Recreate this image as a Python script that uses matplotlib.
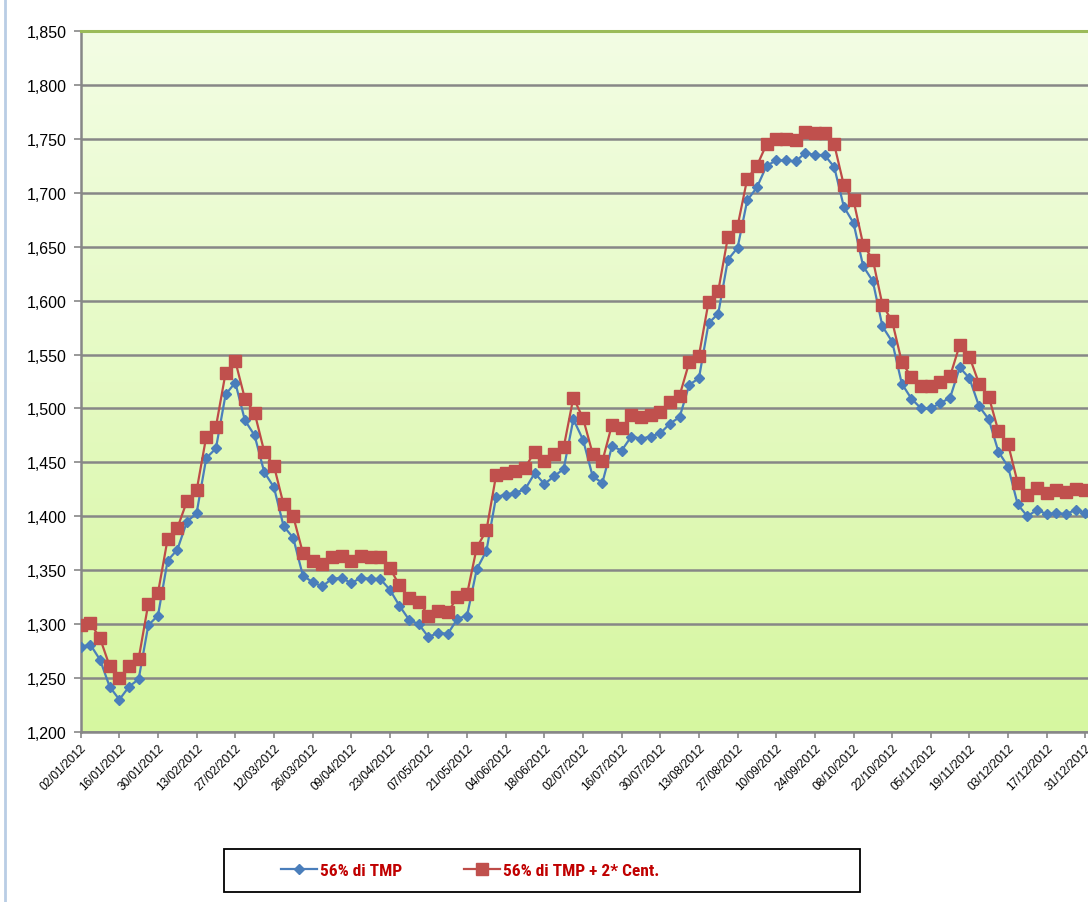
import numpy as np
import matplotlib
matplotlib.use('Agg')
import matplotlib.pyplot as plt
from matplotlib.colors import LinearSegmentedColormap
from matplotlib.lines import Line2D
from matplotlib.patches import Rectangle

# twice-weekly values, 02/01/2012 -> 31/12/2012
tmp56 = [1279, 1281, 1267, 1242, 1230, 1242, 1249, 1299, 1308, 1359,
         1369, 1395, 1403, 1454, 1463, 1513, 1524, 1489, 1475, 1441,
         1427, 1391, 1380, 1345, 1339, 1335, 1342, 1343, 1338, 1343,
         1342, 1342, 1332, 1317, 1304, 1300, 1288, 1292, 1291, 1305,
         1308, 1351, 1368, 1418, 1420, 1422, 1425, 1440, 1430, 1437,
         1444, 1490, 1471, 1437, 1431, 1465, 1461, 1474, 1472, 1474,
         1477, 1486, 1492, 1522, 1528, 1579, 1588, 1638, 1649, 1693,
         1705, 1725, 1730, 1730, 1729, 1737, 1735, 1735, 1724, 1687,
         1672, 1632, 1618, 1576, 1562, 1523, 1509, 1500, 1500, 1505,
         1510, 1538, 1528, 1502, 1490, 1460, 1446, 1411, 1400, 1406,
         1402, 1403, 1402, 1406, 1403]
tmp56_cent = [1299, 1301, 1287, 1261, 1250, 1261, 1268, 1319, 1329, 1379,
              1389, 1414, 1424, 1474, 1483, 1533, 1544, 1509, 1496, 1460,
              1447, 1411, 1400, 1366, 1359, 1356, 1362, 1363, 1359, 1363,
              1362, 1362, 1352, 1336, 1324, 1321, 1308, 1312, 1311, 1325,
              1328, 1371, 1387, 1438, 1440, 1442, 1445, 1460, 1451, 1458,
              1464, 1510, 1491, 1458, 1451, 1485, 1482, 1494, 1492, 1494,
              1497, 1506, 1512, 1543, 1549, 1599, 1609, 1659, 1669, 1713,
              1725, 1745, 1750, 1750, 1749, 1756, 1755, 1755, 1745, 1707,
              1693, 1652, 1638, 1596, 1581, 1543, 1529, 1521, 1521, 1525,
              1530, 1559, 1548, 1523, 1511, 1479, 1467, 1431, 1420, 1426,
              1422, 1424, 1423, 1425, 1424]
date_labels = ['02/01/2012', '16/01/2012', '30/01/2012', '13/02/2012', '27/02/2012',
               '12/03/2012', '26/03/2012', '09/04/2012', '23/04/2012', '07/05/2012',
               '21/05/2012', '04/06/2012', '18/06/2012', '02/07/2012', '16/07/2012',
               '30/07/2012', '13/08/2012', '27/08/2012', '10/09/2012', '24/09/2012',
               '08/10/2012', '22/10/2012', '05/11/2012', '19/11/2012', '03/12/2012',
               '17/12/2012', '31/12/2012']

plt.rcParams['font.family'] = ['Liberation Sans', 'DejaVu Sans']

W, H = 1088, 903
fig = plt.figure(figsize=(W / 100, H / 100), dpi=100)
left, right, top, bottom = 80.7, 1088, 32, 733
ax = fig.add_axes([left / W, 1 - bottom / H, (right - left) / W, (bottom - top) / H])

x = np.arange(len(tmp56))

# gradient background of the plot area
cmap = LinearSegmentedColormap.from_list('bg', ['#d6f7a0', '#f3fde4'])
grad = np.linspace(0, 1, 256).reshape(-1, 1)
ax.imshow(grad, extent=[0, 1, 0, 1], transform=ax.transAxes, aspect='auto',
          cmap=cmap, origin='lower', zorder=0)

ax.plot(x, tmp56, color='#4a7ebb', lw=1.6, marker='D', ms=5.6,
        mfc='#4a7ebb', mec='#4a7ebb', label='56% di TMP', zorder=3)
ax.plot(x, tmp56_cent, color='#be4b48', lw=1.6, marker='s', ms=8,
        mfc='#c0504d', mec='#c0504d', label='56% di TMP + 2* Cent.', zorder=3)

ax.set_ylim(1200, 1850)
ax.set_xlim(0, (right - left) / 9.66)
ax.set_yticks(np.arange(1200, 1851, 50))
ax.set_yticklabels(['{:,}'.format(v) for v in range(1200, 1851, 50)], fontsize=11.5)
ax.set_xticks(np.arange(0, len(tmp56), 4))
ax.set_xticklabels(date_labels, rotation=45, ha='right', rotation_mode='anchor', fontsize=8.6)
ax.yaxis.grid(True, color='#878787', lw=1.8, zorder=1)
ax.set_axisbelow(True)
ax.tick_params(axis='y', length=5, color='#878787', width=1.2, pad=5)
ax.tick_params(axis='x', length=4, color='#878787', width=1.2, pad=3)

ax.spines['right'].set_visible(False)
ax.spines['top'].set_color('#9bbb59')
ax.spines['top'].set_linewidth(2.2)
for s in ['left', 'bottom']:
    ax.spines[s].set_color('#878787')
    ax.spines[s].set_linewidth(1.8)

# chart frame edge on the left
fig.add_artist(Line2D([5 / W, 5 / W], [0, 1], color='#b9cde5', lw=2, transform=fig.transFigure))

# legend box
fig.add_artist(Rectangle((224 / W, 1 - 893 / H), 636 / W, 43 / H, fill=False,
                         ec='black', lw=1.3, transform=fig.transFigure))
leg = fig.legend(loc='center left', bbox_to_anchor=(281 / W, 1 - 871.5 / H),
                 ncol=2, frameon=False, handlelength=2.1, borderpad=0, borderaxespad=0,
                 columnspacing=3.55, handletextpad=0.15,
                 prop={'family': ['Liberation Sans Narrow', 'Roboto Condensed',
                                  'DejaVu Sans Condensed', 'Liberation Sans'],
                       'weight': 'bold', 'size': 12.5})
for t in leg.get_texts():
    t.set_color('#c00000')

fig.savefig('out.png', dpi=100)
